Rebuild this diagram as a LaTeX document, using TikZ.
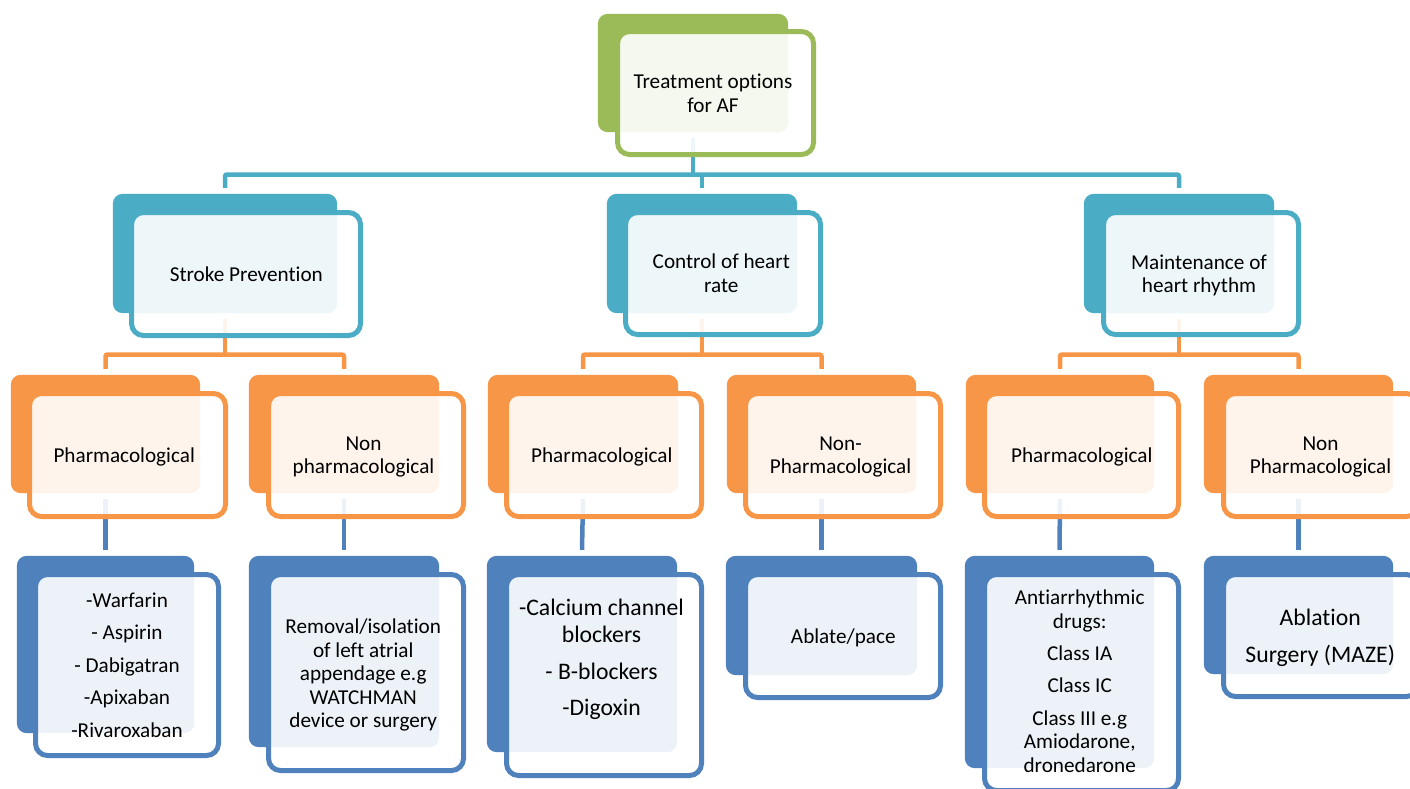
\documentclass[tikz,border=0pt]{standalone}
\usepackage{fontspec}
\setmainfont{Carlito}[Ligatures=NoCommon]
\usetikzlibrary{fit}
\definecolor{cgreen}{HTML}{9BBB59}
\definecolor{cteal}{HTML}{4BACC6}
\definecolor{corange}{HTML}{F79646}
\definecolor{cblue}{HTML}{4F81BD}
\tikzset{
 backbox/.style={fill=#1, draw=none, rounded corners=10pt, inner sep=0pt, outer sep=0pt},
 frontbox/.style={draw=#1, line width=5pt, fill=white, fill opacity=0.9, rounded corners=12pt, inner sep=0pt, outer sep=0pt},
 txt/.style={align=center, text=black, inner sep=0pt, yshift=-2pt, font=\fontsize{21.2}{23.5}\selectfont},
 txtbig/.style={align=center, text=black, inner sep=0pt, yshift=-2pt, font=\fontsize{23.7}{27}\selectfont},
 link/.style={draw=#1, line width=4.5pt, rounded corners=2pt},
}
\begin{document}
\begin{tikzpicture}[x=1pt,y=-1pt]
\useasboundingbox (0,0) rectangle (1410,788);
\clip (0,0) rectangle (1410,788);
% back rectangles (positions only, drawn later)
\path
 node[fit={(598,14)(788,132)}, inner sep=0pt] (b0) {}
 node[fit={(113,194)(337,313)}, inner sep=0pt] (b1) {}
 node[fit={(607,194)(797,313)}, inner sep=0pt] (b2) {}
 node[fit={(1084,194)(1274,313)}, inner sep=0pt] (b3) {}
 node[fit={(11,375)(200,493)}, inner sep=0pt] (p1) {}
 node[fit={(249,375)(439,493)}, inner sep=0pt] (n1) {}
 node[fit={(488,375)(678,493)}, inner sep=0pt] (p2) {}
 node[fit={(727,375)(916,493)}, inner sep=0pt] (n2) {}
 node[fit={(966,375)(1154,493)}, inner sep=0pt] (p3) {}
 node[fit={(1204,375)(1393,493)}, inner sep=0pt] (n3) {}
 node[fit={(17,556)(194,733)}, inner sep=0pt] (q1) {}
 node[fit={(249,556)(439,747)}, inner sep=0pt] (q2) {}
 node[fit={(487,556)(677,752)}, inner sep=0pt] (q3) {}
 node[fit={(726,556)(917,675)}, inner sep=0pt] (q4) {}
 node[fit={(965,556)(1154,768)}, inner sep=0pt] (q5) {}
 node[fit={(1204,556)(1393,674)}, inner sep=0pt] (q6) {};
\coordinate (h1) at (0,174.5);
\coordinate (h2) at (0,354.5);
% connectors
\draw[link=cteal] ([yshift=-6pt]b0.south) -- (b0.south |- h1);
\draw[link=cteal] ([yshift=6pt]b1.north) -- (b1.north |- h1) -- (b3.north |- h1) -- ([yshift=6pt]b3.north);
\draw[link=cteal] (b2.north |- h1) -- ([yshift=6pt]b2.north);
\foreach \b/\p/\n in {b1/p1/n1, b2/p2/n2, b3/p3/n3}{
 \draw[link=corange] ([yshift=-6pt]\b.south) -- (\b.south |- h2);
 \draw[link=corange] ([yshift=6pt]\p.north) -- (\p.north |- h2) -- (\n.north |- h2) -- ([yshift=6pt]\n.north);
}
\foreach \p/\q in {p1/q1, n1/q2, p2/q3, n2/q4, p3/q5, n3/q6}{
 \draw[link=cblue] ([yshift=-6pt]\p.south) -- ([yshift=6pt]\q.north);
}
% boxes
\fill[backbox=cgreen] (b0.north west) rectangle (b0.south east);
\node[frontbox=cgreen, fit={(617.5,31.5)(813.5,154.5)}] (f0) {};
\foreach \b/\x/\y/\X/\Y/\c/\nm in {
 b1/131.5/212.5/360.5/335.5/cteal/f1,
 b2/625.5/212.5/820.5/334.5/cteal/f2,
 b3/1103.5/212.5/1298.5/334.5/cteal/f3,
 p1/29.5/393.5/225.5/516.5/corange/g1,
 n1/268.5/393.5/463.5/516.5/corange/g2,
 p2/506.5/393.5/701.5/516.5/corange/g3,
 n2/745.5/393.5/940.5/516.5/corange/g4,
 p3/984.5/393.5/1178.5/516.5/corange/g5,
 n3/1223.5/393.5/1418.5/516.5/corange/g6,
 q1/35.5/574.5/218.5/755.5/cblue/k1,
 q2/268.5/574.5/463.5/770.5/cblue/k2,
 q3/506.5/574.5/701.5/775.5/cblue/k3,
 q4/745.5/574.5/940.5/697.5/cblue/k4,
 q5/984.5/574.5/1178.5/790.5/cblue/k5,
 q6/1223.5/574.5/1418.5/696.5/cblue/k6}{
 \fill[backbox=\c] (\b.north west) rectangle (\b.south east);
 \node[frontbox=\c, fit={(\x,\y)(\X,\Y)}] (\nm) {};
}
% texts
\node[txt] (t0) at (713,94) {\strut Treatment options\\\strut for AF};
\node[txt] (t1) at (246.3,274.3) {\strut Stroke Prevention};
\node[txt] (t2) at (721.3,273.8) {\strut Control of heart\\\strut rate};
\node[txt] (t3) at (1199,274.3) {\strut Maintenance of\\\strut heart rhythm};
\node[txt] (u1) at (124.2,455.3) {\strut Pharmacological};
\node[txt] (u2) at (363.5,455.3) {\strut Non\\\strut pharmacological};
\node[txt] (u3) at (601.8,455.3) {\strut Pharmacological};
\node[txt] (u4) at (840.5,455.3) {\strut Non-\\\strut Pharmacological};
\node[txt] (u5) at (1081.8,455.3) {\strut Pharmacological};
\node[txt] (u6) at (1320.5,455.3) {\strut Non\\\strut Pharmacological};
\node[txt] (v1) at (127,665.3) {\strut -Warfarin\\[9pt]\strut - Aspirin\\[9pt]\strut - Dabigatran\\[9pt]\strut -Apixaban\\[9pt]\strut -Rivaroxaban};
\node[txt] (v2) at (363.2,673.8) {\strut Removal/isolation\\\strut of left atrial\\\strut appendage e.g\\\strut WATCHMAN\\\strut device or surgery};
\node[txtbig] (v3) at (601.5,657.6) {\strut -Calcium channel\\\strut blockers\\[10pt]\strut - B-blockers\\[9pt]\strut -Digoxin};
\node[txt] (v4) at (843.3,636.3) {\strut Ablate/pace};
\node[txt] (v5) at (1079.7,681.8) {\strut Antiarrhythmic\\\strut drugs:\\[8.5pt]\strut Class IA\\[9pt]\strut Class IC\\[9pt]\strut Class III e.g\\\strut Amiodarone,\\\strut dronedarone};
\node[txtbig] (v6) at (1320.2,636.1) {\strut Ablation\\[10pt]\strut Surgery (MAZE)};
\end{tikzpicture}
\end{document}
